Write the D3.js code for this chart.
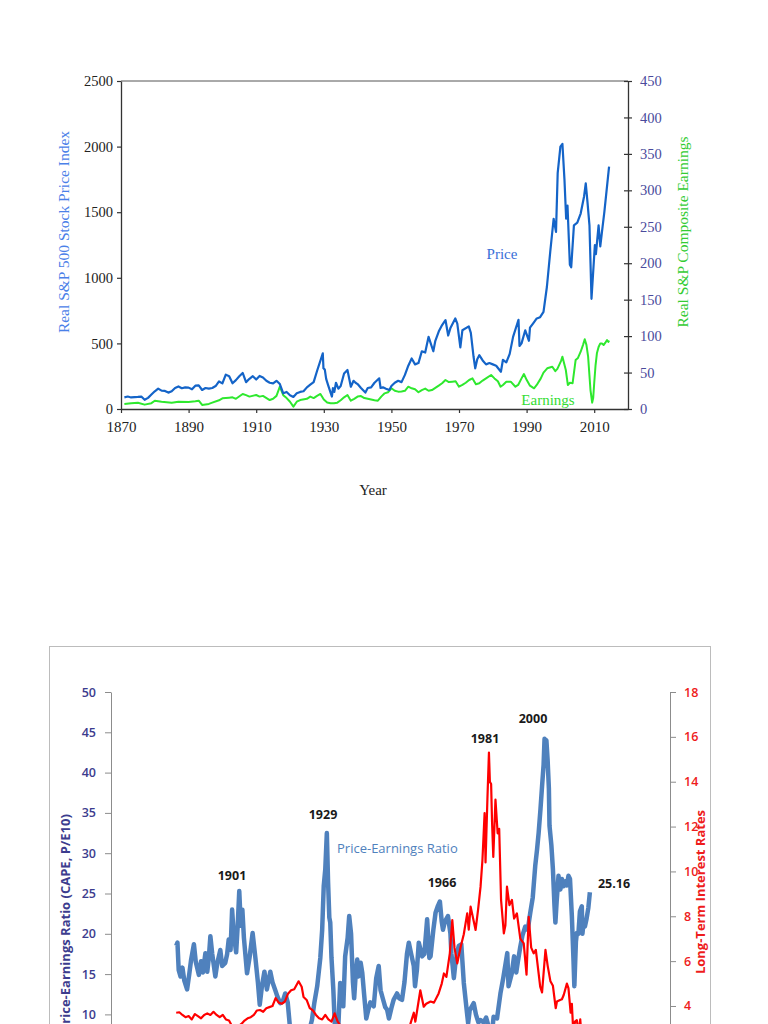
<!DOCTYPE html>
<html><head><meta charset="utf-8">
<script src="https://cdn.jsdelivr.net/npm/d3@7"></script>
<style>
html,body{margin:0;padding:0;background:#fff;overflow:hidden;}
svg{display:block;}
</style></head>
<body>
<script>
// ---------- Top chart data: real S&P price and earnings ----------
const priceSeries = [
[1871,89],[1872,95],[1873,88],[1874,90],[1875,92],[1876,95],[1877,70],[1878,85],[1879,110],[1880,135],
[1881,155],[1882,140],[1883,138],[1884,125],[1885,135],[1886,160],[1887,172],[1888,158],[1889,165],[1890,163],
[1891,150],[1892,178],[1893,180],[1894,145],[1895,160],[1896,155],[1897,160],[1898,175],[1899,210],[1900,195],
[1901,262],[1902,250],[1903,196],[1904,220],[1905,250],[1906,275],[1907,205],[1908,230],[1909,250],[1910,225],
[1911,252],[1912,240],[1913,215],[1914,200],[1915,195],[1916,215],[1917,190],[1918,120],[1919,130],[1920,105],
[1921,92],[1922,120],[1923,130],[1924,135],[1925,165],[1926,185],[1927,205],[1928,290],[1929.7,424],[1929.9,310],
[1930.3,300],[1930.7,230],[1931.3,180],[1932.4,95],[1932.7,160],[1933.1,130],[1933.6,200],[1934.3,155],[1935,175],[1936,270],
[1937,297],[1938,170],[1938.8,215],[1939.4,200],[1940,190],[1941,160],[1942.3,125],[1943,160],[1944,165],[1945,200],
[1946.4,234],[1946.8,160],[1947.5,165],[1948.4,155],[1949.4,145],[1950,175],[1951,200],[1952,215],[1953,205],[1954,260],
[1955,330],[1956,385],[1957,340],[1958,350],[1959,440],[1960,430],[1961,550],[1962.4,440],[1963,520],[1964,590],
[1965,640],[1966,678],[1966.8,560],[1967.5,620],[1968.9,690],[1969.5,650],[1970.4,470],[1971,600],[1972.9,630],[1973.5,580],
[1974.3,400],[1974.8,310],[1975.4,380],[1976,410],[1977,370],[1978,340],[1979,350],[1980,340],[1981,330],[1982.4,284],
[1983,375],[1984,355],[1985,420],[1986,550],[1987.6,680],[1987.9,480],[1988.5,500],[1989.6,600],[1990.7,520],[1991,620],
[1992,655],[1993,690],[1994,700],[1995,740],[1996,930],[1997,1200],[1998,1450],[1998.7,1350],[1999.2,1800],[2000,2000],
[2000.6,2020],[2001.2,1750],[2001.7,1450],[2002.1,1550],[2002.8,1100],[2003.2,1080],[2004,1400],[2005,1420],[2006,1490],[2007,1620],
[2007.5,1720],[2008,1580],[2008.6,1400],[2009.2,840],[2010.2,1250],[2010.5,1180],[2011.3,1400],[2011.8,1240],[2012.3,1350],[2013,1500],
[2014.4,1847]
];
const earningsSeries = [
[1871,7],[1873,8],[1875,8.5],[1877,6],[1879,8],[1880,11.4],[1882,10],[1885,8.7],[1887,10],[1890,9.6],
[1892,10.5],[1893,11.4],[1894,5.5],[1896,7],[1897,8.7],[1899,12],[1900,14.6],[1902,15.5],[1903,16],[1904,14],
[1906,20.6],[1907,19],[1908,17],[1910,19.2],[1911,17],[1912,18],[1914,12.3],[1915,14],[1916,18],[1917,30.6],
[1918,19],[1919,15],[1920,10],[1921,3.2],[1922,10],[1923,12.3],[1925,14],[1926,17],[1927,15],[1928,18],
[1929,20.6],[1930,13],[1931,9],[1932,7.8],[1933,8],[1934,8.7],[1935,12],[1936,16],[1937,19.2],[1938,11.4],
[1939,14],[1940,17],[1941,17.8],[1942,15],[1943,14],[1944,13],[1945,12],[1946,11.4],[1947,17],[1948,21.5],
[1949,23],[1950,28.4],[1951,25],[1952,23.8],[1953,24],[1954,25],[1955,30.6],[1956,28.4],[1957,27],[1958,23],
[1959,26],[1960,28],[1961,25],[1962,26],[1963,29],[1964,32],[1965,35.3],[1966,39.8],[1967,37],[1968,37.5],
[1969,38],[1970,30.6],[1971,33],[1972,36],[1973,39.8],[1974,42],[1975,34],[1976,35.3],[1977,39],[1978,42],
[1979.5,46.6],[1980.5,42],[1981.5,38],[1982.3,30.6],[1983,33],[1984,37.5],[1985.3,37.5],[1986.7,30.6],[1987.5,33],[1988.5,42],
[1989.2,48],[1990,40],[1991,32],[1992.2,28.4],[1993,33],[1994.2,42],[1995,50],[1996.1,55.8],[1997.6,58],[1998.5,52],
[1999.1,55],[2000.2,66],[2000.6,71.8],[2001.6,53.5],[2002.2,33],[2002.8,36],[2003.6,35.3],[2004.5,67.2],[2005.2,70],[2006,78.6],
[2006.7,88],[2007.2,95.6],[2007.7,88],[2008.2,71.8],[2008.9,26],[2009.4,8.7],[2009.7,15],[2010,35.3],[2010.4,60],[2010.8,76.4],
[2011.3,85],[2011.8,90],[2012.3,90],[2012.8,87.8],[2013.3,91],[2013.8,94.7],[2014.2,92],[2014.4,94]
];
const topYearTicks = [1870,1890,1910,1930,1950,1970,1990,2010];
const topPriceTicks = [0,500,1000,1500,2000,2500];
const topEarnTicks = [0,50,100,150,200,250,300,350,400,450];

// ---------- Bottom chart data: CAPE and long-term interest rates ----------
const capeSeries = [
[1881.0,18.5],[1881.4,18.9],[1881.8,15.5],[1882.4,14.7],[1883.0,15.8],[1883.6,14.2],[1884.5,13.1],[1885.2,15],[1885.8,16.8],[1886.7,18.7],
[1887.3,16.5],[1888.3,14.9],[1889.0,16.6],[1889.6,15.2],[1890.4,17.6],[1891.0,15.3],[1891.5,17],[1892.0,19.7],[1892.6,17.5],[1893.6,14.7],
[1894.2,16.3],[1895.2,18],[1895.8,16],[1896.8,16.4],[1897.4,17.5],[1897.9,19.3],[1898.5,18],[1899.0,23],[1899.5,20],[1900.3,17.7],
[1900.8,21],[1901.3,25.3],[1901.8,21],[1902.3,23],[1902.8,19.5],[1903.8,15.1],[1904.6,17],[1905.6,20.1],[1906.5,17],[1907.3,14],
[1907.9,11.2],[1908.6,13.5],[1909.4,15.3],[1910.2,13.1],[1911.3,15.3],[1912.0,14],[1912.9,13],[1913.6,12.2],[1914.5,11.4],[1915.3,11.6],
[1916.1,12.6],[1916.9,11.5],[1917.7,8.1],[1918.5,6.5],[1919.3,7.5],[1920.5,5.5],[1921.5,5.2],[1922.5,7],[1923.5,7.5],[1924.7,9.3],
[1925.5,11.5],[1926.4,13.5],[1927.4,17],[1928.0,20.5],[1928.5,25.9],[1929.0,28],[1929.5,32.5],[1929.9,26.4],[1930.3,22],[1930.6,21.4],
[1931.0,17],[1931.6,13],[1932.4,5.6],[1932.7,9],[1933.2,8.5],[1933.8,13.9],[1934.2,12.5],[1934.8,11],[1935.4,17.2],[1936.2,19.5],
[1936.7,22.2],[1937.3,20],[1937.9,14],[1938.3,12],[1938.8,15],[1939.3,16.8],[1939.7,14.7],[1940.4,16.4],[1940.9,15.2],[1941.5,12.5],
[1942.2,9.5],[1942.8,10.5],[1943.5,11.5],[1944.6,11],[1945.4,14.5],[1946.2,16],[1946.8,13],[1947.5,12],[1948.3,10.9],[1948.9,10.6],
[1949.5,9.5],[1950.3,10.8],[1951.0,11.8],[1952.1,12.6],[1952.8,12],[1953.7,11.8],[1954.5,14],[1955.3,17.5],[1955.9,18.9],[1956.6,17.6],
[1957.5,16],[1957.9,13.5],[1958.5,15.5],[1959.1,18.9],[1960.2,17.2],[1960.9,17.5],[1961.8,21.8],[1962.5,17],[1962.9,17.2],[1963.8,20.5],
[1964.5,22.6],[1965.3,23.5],[1965.9,24],[1966.5,21.5],[1966.9,20.5],[1967.5,21.5],[1968.5,22.2],[1969.3,20],[1969.6,17.6],[1970.4,14.5],
[1970.8,16],[1971.5,17.8],[1972.0,18.5],[1972.8,18.7],[1973.6,13.9],[1974.4,11],[1975.0,8.9],[1975.5,10.5],[1976.8,11.4],[1977.5,10],
[1978.3,9],[1979.0,9.3],[1980.0,9],[1980.8,9.6],[1981.6,8.5],[1982.5,7],[1983.2,9.7],[1984.3,9.5],[1985.4,12.6],[1986.3,14.5],
[1987.6,17.6],[1988.0,13.5],[1989.0,15],[1989.8,17.2],[1990.5,15.2],[1991.0,16.5],[1991.8,18.4],[1992.5,19.8],[1993.4,20.9],[1994.2,20.5],
[1995.0,22.6],[1995.8,24.5],[1996.6,28.4],[1997.2,30.5],[1997.7,32.5],[1998.3,35.5],[1998.8,38.3],[1999.3,41],[1999.6,44.2],[1999.9,43],
[2000.2,44],[2000.6,41.5],[2001.0,38],[2001.2,33.4],[2001.8,31],[2002.3,28],[2002.8,23.5],[2003.1,21.4],[2003.5,24],[2004.1,27.2],
[2004.7,25.5],[2005.2,26.8],[2005.7,25.9],[2006.3,26.5],[2006.8,26],[2007.3,27.2],[2007.8,26.8],[2008.4,22.2],[2008.9,17],[2009.2,13.5],
[2009.7,19],[2010.0,20.1],[2010.5,20],[2011.0,22.8],[2011.6,23.4],[2011.8,20],[2012.2,21.5],[2012.6,20.9],[2013.1,21.8],[2013.7,23.2],
[2014.2,25.16]
];
const rateSeries = [
[1881,3.7],[1882,3.72],[1883,3.6],[1884,3.5],[1885,3.55],[1886,3.4],[1887,3.64],[1888,3.55],[1889,3.45],[1890,3.6],
[1891,3.67],[1892,3.6],[1893,3.74],[1894,3.6],[1895,3.5],[1896,3.6],[1897,3.4],[1898,3.35],[1899,3.1],[1900,3.15],
[1901,3.1],[1902,3.2],[1903,3.35],[1904,3.45],[1905,3.5],[1906,3.6],[1907,3.8],[1908,3.82],[1909,3.74],[1910,3.9],
[1911,3.95],[1912,4.0],[1913,4.35],[1914,4.15],[1915,4.1],[1916,4.2],[1917,4.55],[1918,4.7],[1919,4.75],[1920.4,5.1],
[1921.4,4.86],[1922,4.4],[1923,4.27],[1924,3.9],[1925,3.8],[1926,3.6],[1927,3.45],[1928,3.4],[1929,3.6],[1930,3.4],
[1931,3.3],[1932,3.67],[1933,3.3],[1934,3.1],[1935,2.8],[1936,2.65],[1937,2.7],[1938,2.6],[1939,2.4],[1940,2.2],
[1941,2.0],[1942,2.45],[1943,2.47],[1944,2.48],[1945,2.37],[1946,2.19],[1947,2.25],[1948,2.44],[1949,2.31],[1950,2.32],
[1951,2.57],[1952,2.68],[1953,2.94],[1954,2.55],[1955,2.84],[1956.4,3.2],[1957.5,3.7],[1958,3.3],[1958.6,3.82],[1959.6,4.7],
[1960.7,3.97],[1961.5,4.1],[1962.9,4.2],[1964,4.15],[1965.5,4.56],[1966.5,5.0],[1967.2,5.45],[1968,5.3],[1969.1,6.35],[1969.9,7.83],
[1970.6,6.6],[1971.5,5.9],[1972.6,6.64],[1973.6,7.2],[1974.7,8.13],[1975.2,7.4],[1975.8,8.43],[1977.4,7.39],[1978.2,8.3],[1979,9.32],
[1979.6,10.5],[1980.3,12.6],[1980.6,10.4],[1981.2,13.2],[1981.7,15.3],[1982.0,14.0],[1982.4,13.9],[1982.7,12.2],[1983.1,10.65],[1983.8,13.2],
[1984.5,11.7],[1985.0,11.9],[1985.6,8.73],[1986.5,7.24],[1987.0,7.6],[1987.5,9.32],[1988.3,8.5],[1989.1,8.73],[1989.8,7.9],[1990.7,8.13],
[1991.8,7.0],[1992.9,6.79],[1993.8,5.4],[1994.5,7.98],[1995.3,6.6],[1996.1,6.35],[1996.8,6.5],[1998.2,4.86],[1998.8,4.6],[1999.9,6.5],
[2000.6,5.8],[2001.5,5.1],[2002.3,4.9],[2003.2,3.9],[2003.6,4.2],[2004.6,4.27],[2005.2,4.3],[2005.8,4.5],[2006.8,5.0],[2007.3,4.8],
[2008.0,3.7],[2008.4,4.1],[2008.9,2.7],[2009.4,3.3],[2010,3.37],[2010.6,2.8],[2011.1,3.4],[2011.8,2.1],[2012.5,1.6],[2013.2,1.9],
[2013.8,2.8],[2014.2,2.7]
];
const botCapeTicks = [0,5,10,15,20,25,30,35,40,45,50];
const botRateTicks = [0,2,4,6,8,10,12,14,16,18];
const peakLabels = ["1901","1929","1966","1981","2000"];
const lastCapeLabel = "25.16";

// ---------- Drawing ----------
const svg = d3.select("body").append("svg").attr("width",768).attr("height",1110);
const serif = "'Liberation Serif','Times New Roman',serif";
const sans = "'Open Sans','Noto Sans',sans-serif";

// Top chart scales
const xT = d3.scaleLinear().domain([1870,2020]).range([121,628]);
const yP = d3.scaleLinear().domain([0,2500]).range([409,81]);
const yE = d3.scaleLinear().domain([0,450]).range([409,81]);

const gTop = svg.append("g");
gTop.append("line").attr("x1",xT(1870)).attr("x2",xT(2020)).attr("y1",yP(2500)).attr("y2",yP(2500))
  .attr("stroke","#555").attr("stroke-width",1);

const axL = gTop.append("g").attr("transform",`translate(${xT(1870)},0)`)
  .call(d3.axisLeft(yP).tickValues(topPriceTicks).tickSize(4).tickSizeOuter(0).tickPadding(4).tickFormat(d3.format("d")));
const axR = gTop.append("g").attr("transform",`translate(${xT(2020)},0)`)
  .call(d3.axisRight(yE).tickValues(topEarnTicks).tickSize(4).tickSizeOuter(0).tickPadding(8).tickFormat(d3.format("d")));
axR.selectAll(".tick line").attr("x1",-4);
const axB = gTop.append("g").attr("transform",`translate(0,${yP(0)})`)
  .call(d3.axisBottom(xT).tickValues(topYearTicks).tickSize(4).tickSizeOuter(0).tickPadding(8).tickFormat(d3.format("d")));
[axL,axR,axB].forEach(a=>{
  a.selectAll("path").attr("stroke","#333").attr("stroke-width",1.3);
  a.selectAll("line").attr("stroke","#333").attr("stroke-width",1.2);
  a.selectAll("text").attr("font-family",serif).attr("font-size",14.5);
});
axL.selectAll("text").attr("fill","#222");
axB.selectAll("text").attr("fill","#222").attr("font-size",15);
axR.selectAll("text").attr("fill","#4a4a9c");

const lineP = d3.line().x(d=>xT(d[0])).y(d=>yP(d[1]));
const lineE = d3.line().x(d=>xT(d[0])).y(d=>yE(d[1]));
gTop.append("path").datum(earningsSeries).attr("d",lineE).attr("fill","none")
  .attr("stroke","#2ee82e").attr("stroke-width",2).attr("stroke-linejoin","round");
gTop.append("path").datum(priceSeries).attr("d",lineP).attr("fill","none")
  .attr("stroke","#1464c8").attr("stroke-width",2.2).attr("stroke-linejoin","round");

gTop.append("text").attr("transform","translate(69,232) rotate(-90)").attr("text-anchor","middle")
  .attr("font-family",serif).attr("font-size",15.5).attr("fill","#4a80e8").text("Real S&P 500 Stock Price Index");
gTop.append("text").attr("transform","translate(688,232) rotate(-90)").attr("text-anchor","middle")
  .attr("font-family",serif).attr("font-size",15.5).attr("fill","#33cc33").text("Real S&P Composite Earnings");
gTop.append("text").attr("x",502).attr("y",259).attr("text-anchor","middle")
  .attr("font-family",serif).attr("font-size",15).attr("fill","#3a6fd8").text("Price");
gTop.append("text").attr("x",548).attr("y",405).attr("text-anchor","middle")
  .attr("font-family",serif).attr("font-size",15).attr("fill","#33dd33").text("Earnings");
gTop.append("text").attr("x",373).attr("y",495).attr("text-anchor","middle")
  .attr("font-family",serif).attr("font-size",15).attr("fill","#222").text("Year");

// Bottom chart scales
const xB = d3.scaleLinear().domain([1860,2040]).range([111,670]);
const yC = d3.scaleLinear().domain([0,50]).range([1095,692]);
const yR = d3.scaleLinear().domain([0,18]).range([1095.7,692]);

const gBot = svg.append("g");
gBot.append("rect").attr("x",49.5).attr("y",646.5).attr("width",661).attr("height",460)
  .attr("fill","none").attr("stroke","#bcbcbc").attr("stroke-width",1);
gBot.append("clipPath").attr("id","clipB").append("rect").attr("x",50).attr("y",647).attr("width",660).attr("height",459);

const bL = gBot.append("g").attr("transform",`translate(${xB(1860)},0)`)
  .call(d3.axisLeft(yC).tickValues(botCapeTicks).tickSize(6).tickSizeOuter(0).tickPadding(9));
const bR = gBot.append("g").attr("transform",`translate(${xB(2040)},0)`)
  .call(d3.axisRight(yR).tickValues(botRateTicks).tickSize(6).tickSizeOuter(0).tickPadding(8));
[bL,bR].forEach(a=>{
  a.selectAll("path").attr("stroke","#8c8c8c").attr("stroke-width",1);
  a.selectAll("line").attr("stroke","#8c8c8c").attr("stroke-width",1);
  a.selectAll("text").attr("font-family",sans).attr("font-size",12.5).attr("font-weight",600);
});
bL.selectAll("text").attr("fill","#3c3c8e");
bR.selectAll("text").attr("fill","#ee1c1c");

const lineC = d3.line().x(d=>xB(d[0])).y(d=>yC(d[1]));
const lineR = d3.line().x(d=>xB(d[0])).y(d=>yR(d[1]));
const plotG = gBot.append("g").attr("clip-path","url(#clipB)");
plotG.append("path").datum(capeSeries).attr("d",lineC).attr("fill","none")
  .attr("stroke","#4f81bd").attr("stroke-width",4.5).attr("stroke-linejoin","round");
plotG.append("path").datum(rateSeries).attr("d",lineR).attr("fill","none")
  .attr("stroke","#ff0000").attr("stroke-width",2.2).attr("stroke-linejoin","round");

// annotation text placement (pixel positions)
const peakPos = {"1901":[232,880],"1929":[323,819],"1966":[442,887],"1981":[485,743],"2000":[533,723]};
peakLabels.forEach(t=>{
  gBot.append("text").attr("x",peakPos[t][0]).attr("y",peakPos[t][1]).attr("text-anchor","middle")
    .attr("font-family",sans).attr("font-size",12.5).attr("font-weight",700).attr("fill","#1a1a1a").text(t);
});
const lastPt = capeSeries[capeSeries.length-1];
gBot.append("text").attr("x",xB(lastPt[0])+8).attr("y",yC(lastPt[1])-4)
  .attr("font-family",sans).attr("font-size",12.5).attr("font-weight",700).attr("fill","#1a1a1a").text(lastCapeLabel);
gBot.append("text").attr("x",337).attr("y",853)
  .attr("font-family",sans).attr("font-size",13).attr("fill","#4f81bd").text("Price-Earnings Ratio");

gBot.append("text").attr("transform","translate(70,923) rotate(-90)").attr("text-anchor","middle")
  .attr("font-family",sans).attr("font-size",13).attr("font-weight",700).attr("fill","#3c3c8e")
  .text("Price-Earnings Ratio (CAPE, P/E10)");
gBot.append("text").attr("transform","translate(705,892) rotate(-90)").attr("text-anchor","middle")
  .attr("font-family",sans).attr("font-size",13).attr("font-weight",700).attr("fill","#ee1c1c")
  .text("Long-Term Interest Rates");
</script>
</body></html>
